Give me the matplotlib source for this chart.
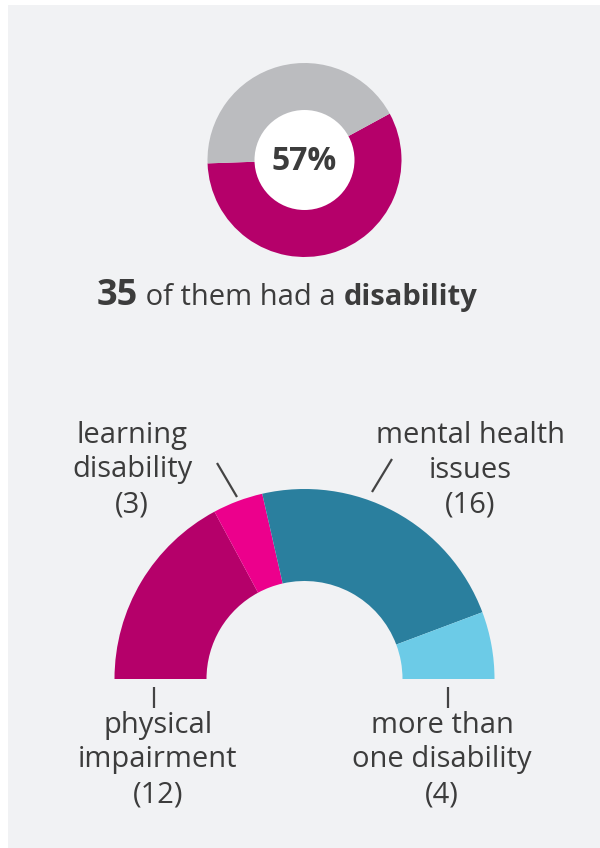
import matplotlib
matplotlib.use("Agg")
import matplotlib.pyplot as plt
from matplotlib.patches import Rectangle, Circle

plt.rcParams['font.family'] = ['Open Sans', 'DejaVu Sans']

# ---- data ----
top_labels = ["had a disability", "no disability"]
top_values = [35, 26]
top_pct_text = "57%"
top_count = 35

seg_labels = ["physical\nimpairment\n(12)", "learning\ndisability\n(3)",
              "mental health\nissues\n(16)", "more than\none disability\n(4)"]
seg_values = [12, 3, 16, 4]

# ---- style ----
BG = "#f1f2f4"
TXT = "#3c3c3c"
MAGENTA = "#b5006a"
GREY = "#bbbcbf"
seg_colors = ["#b5006a", "#ec008c", "#2a7f9e", "#6ccbe7"]

W, H = 600, 848
fig = plt.figure(figsize=(W / 100, H / 100), dpi=100)
fig.patch.set_facecolor("white")
ax = fig.add_axes([0, 0, 1, 1])
ax.set_xlim(0, W)
ax.set_ylim(0, H)
ax.axis("off")

def Y(py):
    return H - py

ax.add_patch(Rectangle((8, 0), W - 8, H - 5, facecolor=BG, edgecolor="none", zorder=0))

# ---- top donut ----
tc = (304.5, Y(160))
ax.pie(top_values, colors=[MAGENTA, GREY], startangle=182, counterclock=True,
       radius=97, center=tc, wedgeprops=dict(linewidth=0), frame=True)
ax.add_patch(Circle(tc, 50, facecolor="white", edgecolor="none", zorder=5))
ax.text(tc[0], tc[1] - 2, top_pct_text, ha="center", va="center", fontsize=23,
        fontweight="bold", color=TXT, zorder=6)

# ---- sentence ----
r = fig.canvas.get_renderer()
x = 97
base = Y(305)
pieces = [(str(top_count), 26, "bold"), (" of them had a ", 21, "normal"), ("disability", 21, "bold")]
for s, fs, fw in pieces:
    t = ax.text(x, base, s, ha="left", va="baseline", fontsize=fs, fontweight=fw, color=TXT)
    bb = t.get_window_extent(renderer=r)
    x += bb.width

# ---- half donut ----
bc = (304.5, Y(679))
total = sum(seg_values)
ax.pie(seg_values + [total], colors=seg_colors + ["none"], startangle=180, counterclock=False,
       radius=190, center=bc, wedgeprops=dict(width=92, linewidth=0), frame=True)

# ---- labels ----
lab_pos = [(158, 760), (132, 470), (470, 470), (442, 760)]
for lab, (lx, ly) in zip(seg_labels, lab_pos):
    ax.text(lx, Y(ly), lab, ha="center", va="center", fontsize=21, color=TXT,
            linespacing=1.26)

lw = 1.6
lc = "#444444"
ax.plot([217, 237], [Y(463), Y(497)], color=lc, lw=lw, solid_capstyle="butt")
ax.plot([392, 372], [Y(459), Y(492)], color=lc, lw=lw, solid_capstyle="butt")
ax.plot([154, 154], [Y(687), Y(708)], color=lc, lw=lw, solid_capstyle="butt")
ax.plot([448, 448], [Y(687), Y(708)], color=lc, lw=lw, solid_capstyle="butt")

ax.set_xlim(0, W)
ax.set_ylim(0, H)
ax.set_aspect("auto")
ax.axis("off")

fig.savefig("out.png", dpi=100, facecolor=fig.get_facecolor())
